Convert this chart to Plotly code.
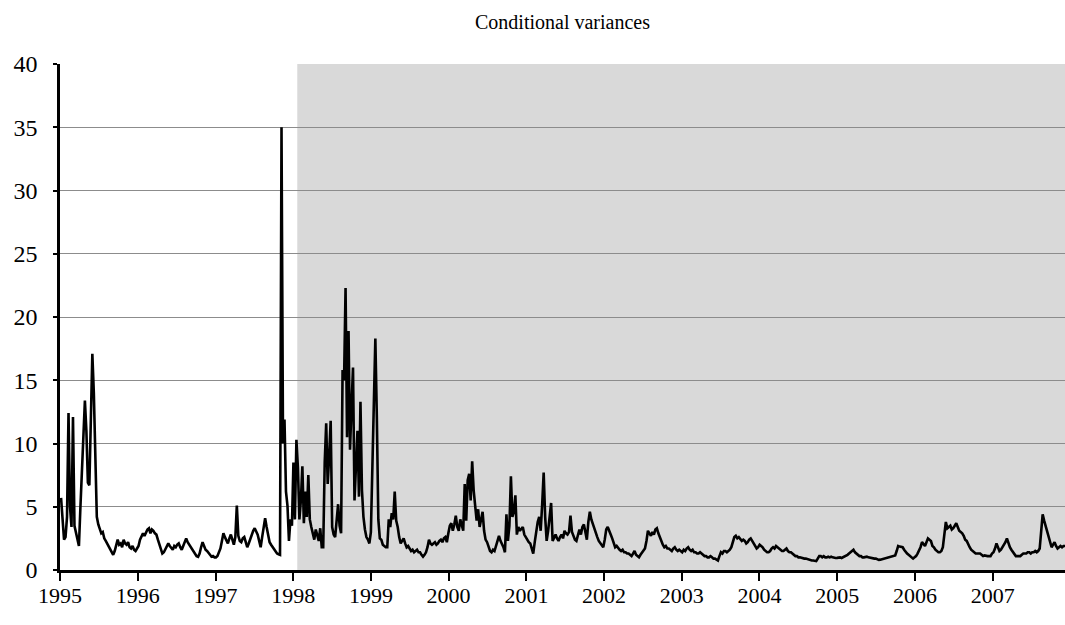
import pandas as pd
import plotly.graph_objects as go

title_text = "Conditional variances"
start_date = "1995-01-06"      # first weekly observation
axis_start = "1995-01-01"
shade_start = "1998-01-20"     # start of the shaded (out-of-sample) period
year_ticks = list(range(1995, 2008))
y_ticks = [0, 5, 10, 15, 20, 25, 30, 35, 40]

# Weekly conditional variances
v1995 = [5.7, 4.0, 2.4, 2.6, 4.2, 12.4, 5.0, 3.4, 12.1, 3.5,
         3.0, 2.5, 1.9, 5.0, 8.3, 11.3, 13.4, 11.0, 6.9, 6.7,
         12.0, 17.1, 14.0, 7.6, 4.2, 3.6, 3.3, 2.9, 3.0, 2.5,
         2.3, 2.1, 1.9, 1.6, 1.4, 1.2, 1.5, 2.0, 2.4, 2.0,
         2.1, 1.8, 2.4, 2.1, 2.0, 2.2, 1.8, 1.7, 1.9, 1.6,
         1.5, 1.7]
v1996 = [1.9, 2.4, 2.6, 2.9, 2.7, 3.0, 3.2, 3.3, 2.9, 3.2,
         3.1, 2.9, 2.8, 2.4, 2.0, 1.6, 1.3, 1.4, 1.6, 1.8,
         2.1, 1.9, 1.7, 1.6, 1.9, 1.8, 2.0, 2.1, 1.8, 1.6,
         1.9, 2.3, 2.5, 2.2, 2.0, 1.9, 1.7, 1.4, 1.2, 1.1,
         1.05, 1.3, 1.8, 2.2, 1.9, 1.6, 1.5, 1.3, 1.2, 1.05,
         1.1, 1.0]
v1997 = [1.0, 1.1, 1.4, 1.7, 2.3, 2.9, 2.6, 2.3, 2.1, 2.5,
         2.8, 2.4, 2.0, 2.6, 5.1, 2.7, 2.3, 2.2, 2.5, 2.6,
         2.1, 1.8, 2.1, 2.5, 2.9, 3.1, 3.3, 3.0, 2.8, 2.3,
         1.8, 2.6, 3.6, 4.1, 3.4, 2.8, 2.2, 2.0, 1.8, 1.6,
         1.5, 1.3, 1.25, 1.2, 35.0, 10.0, 11.9, 6.2, 5.1, 2.3,
         4.0, 3.5]
v1998 = [8.5, 4.0, 10.3, 8.1, 4.0, 5.5, 8.2, 3.7, 6.2, 4.2,
         7.5, 4.0, 3.4, 2.9, 2.4, 3.2, 2.8, 2.3, 3.3, 1.8,
         1.8, 8.5, 11.6, 6.8, 9.0, 11.8, 3.4, 2.8, 2.6, 3.7,
         5.2, 3.5, 2.9, 15.8, 15.0, 22.3, 10.5, 18.9, 9.5, 13.0,
         16.0, 5.5, 7.9, 11.0, 5.8, 13.3, 6.3, 4.2, 3.2, 2.6,
         2.4, 2.1]
v1999 = [3.0, 8.2, 13.0, 18.3, 12.1, 4.0, 2.5, 2.4, 2.0, 1.9,
         1.8, 1.8, 4.0, 3.4, 4.5, 4.0, 6.2, 3.9, 3.4, 2.6,
         2.1, 2.3, 2.5, 2.1, 1.8, 1.9, 1.7, 1.5, 1.6, 1.4,
         1.5, 1.6, 1.4, 1.4, 1.2, 1.05, 1.2, 1.4, 1.8, 2.4,
         2.1, 2.0, 2.1, 2.2, 2.0, 2.1, 2.3, 2.4, 2.2, 2.5,
         2.6, 2.2]
v2000 = [2.9, 3.5, 3.7, 3.1, 3.6, 4.3, 3.4, 3.1, 4.0, 3.5,
         3.1, 6.8, 3.9, 7.1, 7.6, 5.5, 8.6, 6.3, 4.7, 3.9,
         4.8, 3.4, 4.0, 4.6, 3.1, 2.4, 2.2, 1.8, 1.5, 1.4,
         1.6, 1.5, 1.9, 2.1, 2.7, 2.3, 2.1, 1.8, 1.4, 4.4,
         2.3, 3.5, 7.4, 4.2, 4.6, 5.9, 2.8, 3.4, 3.1, 3.3,
         3.4, 2.8]
v2001 = [2.6, 2.3, 2.2, 2.1, 1.6, 1.3, 2.2, 3.1, 3.8, 4.2,
         3.1, 5.2, 7.7, 4.2, 2.3, 3.1, 4.0, 5.3, 2.3, 2.6,
         2.8, 2.5, 2.3, 2.6, 2.8, 2.5, 3.1, 2.9, 2.8, 3.0,
         4.3, 3.0, 2.6, 2.4, 2.3, 2.7, 3.2, 2.8, 3.4, 3.6,
         2.9, 2.4, 3.8, 4.6, 4.0, 3.6, 3.3, 2.9, 2.6, 2.3,
         2.1, 2.0]
v2002 = [1.8, 2.4, 3.2, 3.4, 3.0, 2.8, 2.5, 2.2, 1.8, 1.9,
         1.7, 1.6, 1.5, 1.6, 1.4, 1.4, 1.3, 1.3, 1.2, 1.1,
         1.3, 1.5, 1.2, 1.1, 1.0, 1.2, 1.4, 1.5, 1.7, 2.3,
         3.1, 2.9, 2.7, 3.0, 2.8, 3.2, 3.3, 2.9, 2.6, 2.2,
         2.0, 1.8, 1.9, 1.7, 1.7, 1.6, 1.5, 1.7, 1.8, 1.6,
         1.5, 1.6]
v2003 = [1.5, 1.4, 1.6, 1.5, 1.7, 1.8, 1.6, 1.5, 1.6, 1.4,
         1.4, 1.3, 1.3, 1.4, 1.3, 1.2, 1.1, 1.1, 1.0, 1.0,
         1.1, 1.0, 0.9, 0.9, 0.8, 0.75, 1.1, 1.4, 1.3, 1.5,
         1.5, 1.4, 1.5, 1.6, 1.8, 2.2, 2.6, 2.7, 2.5, 2.6,
         2.4, 2.3, 2.4, 2.3, 2.1, 2.2, 2.4, 2.5, 2.3, 2.1,
         2.0, 1.7]
v2004 = [1.8, 2.0, 1.9, 1.8, 1.6, 1.5, 1.4, 1.4, 1.5, 1.7,
         1.8, 1.7, 1.9, 1.8, 1.7, 1.6, 1.5, 1.5, 1.6, 1.7,
         1.5, 1.4, 1.4, 1.3, 1.2, 1.1, 1.1, 1.0, 1.0, 0.95,
         0.96, 0.9, 0.9, 0.85, 0.8, 0.8, 0.75, 0.75, 0.72, 0.7,
         0.9, 1.1, 1.1, 1.0, 1.1, 1.0, 1.0, 1.05, 1.0, 1.05,
         1.0, 0.95]
v2005 = [0.95, 0.96, 1.0, 1.0, 0.95, 1.0, 1.05, 1.1, 1.2, 1.3,
         1.4, 1.5, 1.6, 1.4, 1.3, 1.2, 1.1, 1.1, 1.0, 1.0,
         1.05, 1.05, 1.0, 0.96, 0.93, 0.9, 0.9, 0.9, 0.85, 0.8,
         0.82, 0.85, 0.9, 0.95, 1.0, 1.0, 1.0, 1.05, 1.1, 1.1,
         1.15, 1.5, 1.9, 1.85, 1.8, 1.8, 1.6, 1.4, 1.3, 1.2,
         1.1, 1.0]
v2006 = [0.9, 1.0, 1.1, 1.3, 1.5, 1.8, 2.2, 2.0, 1.9, 2.2,
         2.5, 2.4, 2.3, 1.9, 1.8, 1.6, 1.5, 1.4, 1.4, 1.5,
         1.8, 2.6, 3.8, 3.3, 3.4, 3.5, 3.2, 3.3, 3.5, 3.7,
         3.4, 3.1, 3.0, 2.9, 2.7, 2.4, 2.3, 2.0, 1.8, 1.6,
         1.5, 1.4, 1.3, 1.3, 1.3, 1.3, 1.2, 1.1, 1.15, 1.1,
         1.1, 1.1]
v2007 = [1.1, 1.3, 1.4, 1.7, 2.1, 1.8, 1.5, 1.6, 1.8, 1.9,
         2.2, 2.5, 2.1, 1.8, 1.6, 1.4, 1.3, 1.1, 1.1, 1.1,
         1.1, 1.2, 1.3, 1.3, 1.3, 1.4, 1.4, 1.3, 1.4, 1.4,
         1.5, 1.4, 1.5, 1.7, 2.8, 4.4, 3.9, 3.5, 3.1, 2.5,
         2.2, 1.8, 2.0, 2.2, 1.9, 1.7, 1.8, 1.9, 1.8, 1.9,
         1.9]

values = (v1995 + v1996 + v1997 + v1998 + v1999 + v2000 + v2001
          + v2002 + v2003 + v2004 + v2005 + v2006 + v2007)
dates = pd.date_range(start_date, periods=len(values), freq="7D")

FONT = "'Liberation Serif', 'DejaVu Serif', 'Times New Roman', serif"

fig = go.Figure()
fig.add_trace(go.Scatter(
    x=dates, y=values, mode="lines",
    line=dict(color="black", width=2.6),
    hoverinfo="skip", showlegend=False,
))

fig.add_shape(
    type="rect", xref="x", yref="y",
    x0=shade_start, x1=dates[-1], y0=y_ticks[0], y1=y_ticks[-1],
    fillcolor="#d9d9d9", line_width=0, layer="below",
)

fig.update_layout(
    width=1065, height=625,
    margin=dict(l=60, r=0, t=64, b=55),
    paper_bgcolor="white", plot_bgcolor="white",
    showlegend=False,
    font=dict(family=FONT, size=22, color="black"),
    title=dict(
        text=title_text, x=0.5, xref="paper", xanchor="center",
        y=1 - 22 / 625, yref="container", yanchor="middle",
        font=dict(family=FONT, size=20, color="black"),
    ),
)

fig.update_xaxes(
    type="date",
    range=[axis_start, dates[-1]],
    tickvals=[f"{y}-01-01" for y in year_ticks],
    ticktext=[str(y) for y in year_ticks],
    ticks="outside", ticklen=8, tickwidth=1.5, tickcolor="black",
    showline=True, linewidth=2.5, linecolor="black",
    showgrid=False, zeroline=False,
    ticklabelstandoff=-4,
    tickfont=dict(family=FONT, size=22, color="black"),
)

fig.update_yaxes(
    range=[y_ticks[0], y_ticks[-1]],
    tickvals=y_ticks,
    ticks="outside", ticklen=4, tickwidth=1.5, tickcolor="black",
    showline=True, linewidth=2.5, linecolor="black",
    showgrid=True, gridcolor="#8c8c8c", gridwidth=1,
    zeroline=False,
    ticklabelstandoff=11,
    tickfont=dict(family=FONT, size=24, color="black"),
)

fig.write_html(
    "out.html",
    config={"displayModeBar": False},
    post_script="document.body.style.margin='0';document.body.style.overflow='hidden';",
)
